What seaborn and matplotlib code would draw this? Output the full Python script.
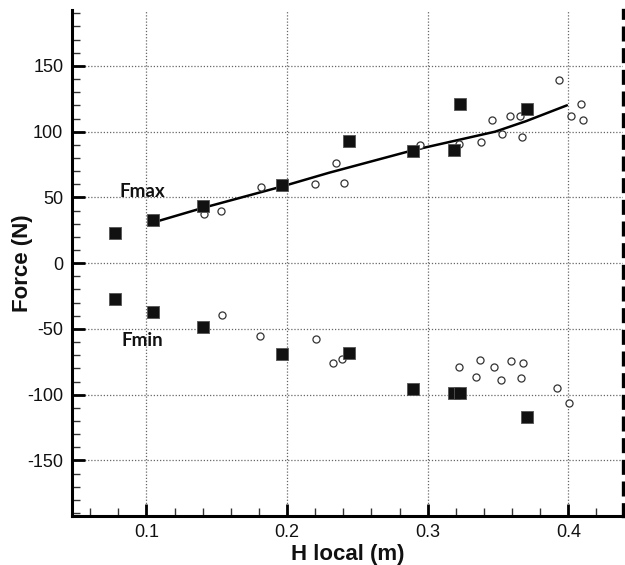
import numpy as np
import pandas as pd
import matplotlib
matplotlib.use("Agg")
import matplotlib.pyplot as plt
from matplotlib.ticker import MultipleLocator
import seaborn as sns

# ---- data ----
fmax_exp_h = [0.0776, 0.1047, 0.140, 0.1965, 0.2437, 0.2894, 0.3184, 0.3229, 0.3707]
fmax_exp_f = [23.3, 32.8, 43.5, 59.2, 92.6, 85.3, 86.3, 120.7, 117.0]
fmin_exp_h = [0.0776, 0.1047, 0.140, 0.1965, 0.2437, 0.2894, 0.3184, 0.3229, 0.3707]
fmin_exp_f = [-27.2, -37.1, -48.7, -68.7, -68.2, -95.3, -98.6, -99.1, -116.9]

fmax_sim_h = [0.1409, 0.1532, 0.1816, 0.2196, 0.2348, 0.2407, 0.2943, 0.3222, 0.3378,
              0.3456, 0.3527, 0.3584, 0.3660, 0.3671, 0.3933, 0.4019, 0.4092, 0.4101]
fmax_sim_f = [37.2, 39.4, 58.1, 60.2, 75.9, 61.2, 90.0, 90.6, 92.3,
              108.6, 98.4, 111.6, 111.9, 95.7, 139.0, 111.6, 120.7, 108.6]
fmin_sim_h = [0.1536, 0.1806, 0.2208, 0.2329, 0.2393, 0.3224, 0.3369, 0.3347, 0.3468,
              0.3522, 0.3593, 0.3681, 0.3664, 0.3919, 0.4007]
fmin_sim_f = [-39.4, -55.6, -57.6, -75.6, -72.8, -79.1, -73.6, -86.5, -79.1,
              -88.5, -74.5, -75.8, -87.5, -95.1, -106.0]

fit_h = [0.105, 0.140, 0.197, 0.230, 0.290, 0.348, 0.370, 0.399]
fit_f = [31.0, 42.0, 58.5, 68.8, 86.0, 100.0, 108.0, 120.0]

xticks = [0.1, 0.2, 0.3, 0.4]
yticks = [-150, -100, -50, 0, 50, 100, 150]
xlabel = "H local (m)"
ylabel = "Force (N)"

# ---- build tables ----
exp_df = pd.DataFrame({"H": fmax_exp_h + fmin_exp_h, "F": fmax_exp_f + fmin_exp_f})
sim_df = pd.DataFrame({"H": fmax_sim_h + fmin_sim_h, "F": fmax_sim_f + fmin_sim_f})
fit_df = pd.DataFrame({"H": fit_h, "F": fit_f})

sns.set_style("ticks")
plt.rcParams["font.family"] = ["Liberation Sans", "DejaVu Sans"]

fig = plt.figure(figsize=(6.25, 5.65), dpi=100)
ax = fig.add_axes([0.1147, 0.0873, 0.8821, 0.895])

sns.lineplot(data=fit_df, x="H", y="F", ax=ax, color="black", linewidth=1.8,
             sort=False, estimator=None, zorder=3)
sns.scatterplot(data=sim_df, x="H", y="F", ax=ax, marker="o", s=26,
                facecolor="white", edgecolor="#333333", linewidth=0.9, zorder=4)
sns.scatterplot(data=exp_df, x="H", y="F", ax=ax, marker="s", s=74,
                color="#111111", edgecolor="#555555", linewidth=0.6, zorder=5)

ax.text(0.0811, 50.5, "Fmax", fontsize=13.5, fontweight="bold", family=["Lato", "DejaVu Sans"],
        ha="left", va="baseline", color="#111111", zorder=6)
ax.text(0.0823, -62.9, "Fmin", fontsize=13.5, fontweight="bold", family=["Lato", "DejaVu Sans"],
        ha="left", va="baseline", color="#111111", zorder=6)

ax.set_xlim(0.0468, 0.4389)
ax.set_ylim(-192, 192.5)
ax.set_xticks(xticks)
ax.set_xticklabels([f"{v:.1f}" for v in xticks])
ax.set_yticks(yticks)
ax.set_yticklabels([str(v) for v in yticks])
ax.xaxis.set_minor_locator(MultipleLocator(0.02))
ax.yaxis.set_minor_locator(MultipleLocator(10))

ax.grid(True, which="major", linestyle=(0, (1, 1.5)), color="#666666", linewidth=0.9)
ax.set_axisbelow(True)

ax.tick_params(which="major", direction="in", length=9, width=2.0, labelsize=13, pad=6,
               color="black", labelcolor="#111111")
ax.tick_params(which="minor", direction="in", length=5.5, width=1.0, color="#333333")
ax.tick_params(axis="both", which="both", top=False, right=False)

for side in ["left", "bottom"]:
    ax.spines[side].set_linewidth(2.2)
    ax.spines[side].set_color("black")
ax.spines["top"].set_visible(False)
ax.spines["right"].set_visible(True)
ax.spines["right"].set_linewidth(2.4)
ax.spines["right"].set_color("black")
ax.spines["right"].set_linestyle((0, (3.5, 3.0)))

ax.set_xlabel(xlabel, fontsize=16, fontweight="bold", labelpad=2.5, color="#111111")
ax.set_ylabel(ylabel, fontsize=16, fontweight="bold", labelpad=-4.5, color="#111111")

fig.savefig("out.png", dpi=100)
